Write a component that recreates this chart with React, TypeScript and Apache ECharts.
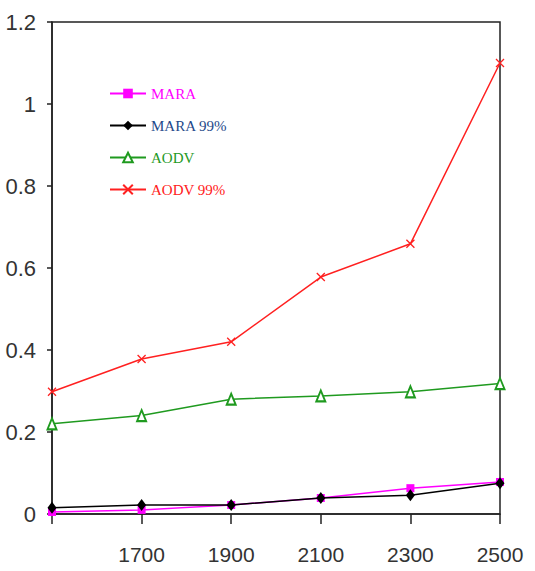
import React, { useEffect, useRef } from "react";
import * as echarts from "echarts";

const categories = ["1500", "1700", "1900", "2100", "2300", "2500"];
const yTicks = [0, 0.2, 0.4, 0.6, 0.8, 1, 1.2];
const mara = [0.005, 0.01, 0.022, 0.039, 0.063, 0.078];
const mara99 = [0.015, 0.022, 0.022, 0.039, 0.046, 0.075];
const aodv = [0.22, 0.24, 0.28, 0.288, 0.298, 0.318];
const aodv99 = [0.298, 0.378, 0.42, 0.578, 0.659, 1.1];

const SANS = "'Liberation Sans', Arial, sans-serif";
const SERIF = "'Liberation Serif', 'DejaVu Serif', serif";

export default function App() {
  const ref = useRef<HTMLDivElement>(null);
  useEffect(() => {
    if (!ref.current) return;
    const chart = echarts.init(ref.current, undefined, { renderer: "svg" });
    const colors = {
      mara: "#ff00ff",
      mara99: "#000000",
      aodv: "#1f9a1f",
      aodv99: "#ff2020",
    };
    chart.setOption({
      animation: false,
      backgroundColor: "#ffffff",
      grid: {
        left: 52,
        right: 35,
        top: 22,
        bottom: 57,
        show: true,
        borderColor: "#222",
        borderWidth: 1.5,
        backgroundColor: "transparent",
      },
      legend: {
        orient: "vertical",
        left: 104,
        top: 81,
        itemWidth: 36,
        itemHeight: 12,
        itemGap: 17,
        textStyle: { fontFamily: SERIF, fontSize: 15 },
        data: [
          { name: "MARA", textStyle: { color: colors.mara } },
          { name: "MARA 99%", textStyle: { color: "#1f4a8a" } },
          { name: "AODV", textStyle: { color: colors.aodv } },
          { name: "AODV 99%", textStyle: { color: colors.aodv99 } },
        ],
      },
      xAxis: {
        type: "category",
        data: categories,
        boundaryGap: false,
        axisLine: { lineStyle: { color: "#222", width: 1.5 } },
        axisTick: { show: true, length: 10, inside: false, lineStyle: { color: "#222", width: 1.5 } },
        axisLabel: {
          margin: 30,
          fontSize: 21,
          fontFamily: SANS,
          color: "#333",
          formatter: (v: string, i: number) => (i === 0 ? "" : v),
        },
        splitLine: { show: false },
      },
      yAxis: {
        type: "value",
        min: 0,
        max: 1.2,
        interval: 0.2,
        axisLine: { show: true, lineStyle: { color: "#222", width: 1.5 } },
        axisTick: { show: true, length: 5, lineStyle: { color: "#222", width: 1.5 } },
        axisLabel: {
          margin: 16,
          fontSize: 22,
          fontFamily: SANS,
          color: "#333",
          formatter: (v: number) => {
            const t = yTicks.find((x) => Math.abs(x - v) < 1e-6);
            return t === undefined ? "" : String(t);
          },
        },
        splitLine: { show: false },
      },
      series: [
        {
          name: "MARA",
          type: "line",
          data: mara,
          color: colors.mara,
          symbol: "rect",
          symbolSize: 8,
          lineStyle: { width: 1.5, color: colors.mara },
          itemStyle: { color: colors.mara },
          z: 3,
        },
        {
          name: "MARA 99%",
          type: "line",
          data: mara99,
          color: colors.mara99,
          symbol: "diamond",
          symbolSize: [9, 12],
          lineStyle: { width: 1.5, color: colors.mara99 },
          itemStyle: { color: colors.mara99 },
          z: 4,
        },
        {
          name: "AODV",
          type: "line",
          data: aodv,
          color: colors.aodv,
          symbol: "emptyTriangle",
          symbolSize: [9, 11],
          lineStyle: { width: 1.5, color: colors.aodv },
          itemStyle: { color: colors.aodv, borderColor: colors.aodv, borderWidth: 1.5 },
        },
        {
          name: "AODV 99%",
          type: "line",
          data: aodv99,
          color: colors.aodv99,
          symbol: "path://M0,0L10,10M10,0L0,10",
          symbolSize: 8,
          lineStyle: { width: 1.5, color: colors.aodv99 },
          itemStyle: { color: colors.aodv99, borderColor: colors.aodv99, borderWidth: 1.3 },
        },
      ],
    });
    return () => chart.dispose();
  }, []);
  return (
    <div
      ref={ref}
      style={{ position: "fixed", left: 0, top: 0, width: 535, height: 571 }}
    />
  );
}
